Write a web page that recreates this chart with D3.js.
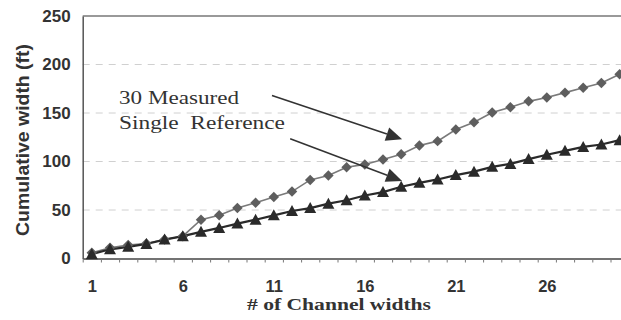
<!DOCTYPE html>
<html><head><meta charset="utf-8">
<script src="https://cdn.jsdelivr.net/npm/d3@7"></script>
<style>
html,body{margin:0;padding:0;background:#fff;}
svg{display:block;}
</style></head>
<body>
<svg id="c" width="621" height="320"></svg>
<script>
const channelWidths = d3.range(1, 31);
const measured30 = [6, 11, 14, 15.5, 19.5, 23, 40, 44.5, 52, 57.5, 63.5, 69, 81, 85.5, 94, 97, 102, 107.5, 116.5, 121, 133, 140.5, 150.5, 156, 162, 166, 171, 176, 181, 190];
const singleRef = [4.5, 9.5, 12, 15, 19.5, 23, 27.5, 31.5, 36, 40, 44.5, 49, 52, 56.5, 60, 65, 68.5, 74, 78, 81.5, 86, 89.5, 94.5, 97.5, 102.5, 107, 111, 115, 117.5, 122];
const yTicks = [0, 50, 100, 150, 200, 250];
const xLabelTicks = [1, 6, 11, 16, 21, 26];
const seriesNames = ["30 Measured", "Single  Reference"];

const svg = d3.select("#c");
const mLeft = 82.7, mTop = 16, mBottom = 258.5, step = 18.2;
const x = d3.scaleLinear().domain([0.5, 30.5]).range([mLeft, mLeft + 30 * step]);
const y = d3.scaleLinear().domain([0, 250]).range([mBottom, mTop]);
const mRight = 621;

// gridlines
svg.append("g").selectAll("line").data(yTicks.filter(v => v > 0 && v < 250)).join("line")
  .attr("x1", mLeft).attr("x2", mRight)
  .attr("y1", d => y(d)).attr("y2", d => y(d))
  .attr("stroke", "#d0d0d0").attr("stroke-width", 1).attr("stroke-dasharray", "7,6");

// top border
svg.append("line").attr("x1", mLeft).attr("x2", mRight).attr("y1", y(250)).attr("y2", y(250))
  .attr("stroke", "#777").attr("stroke-width", 1.5);

// x axis boundary ticks
const xb = svg.append("g").attr("transform", `translate(0,${mBottom})`)
  .call(d3.axisBottom(x).tickValues(d3.range(0.5, 31, 1)).tickFormat("").tickSize(4).tickSizeOuter(0));
xb.select(".domain").attr("stroke", "#444").attr("stroke-width", 1.5);
xb.selectAll(".tick line").attr("stroke", "#777");

// x labels
const xl = svg.append("g").attr("transform", `translate(0,${mBottom})`)
  .call(d3.axisBottom(x).tickValues(xLabelTicks).tickFormat(d3.format("d")).tickSize(0).tickPadding(22));
xl.select(".domain").remove();
xl.selectAll("text").attr("font-family", "Liberation Sans, Arial, sans-serif")
  .attr("font-weight", "bold").attr("font-size", 16.5).attr("fill", "#333");

// y axis
const ya = svg.append("g").attr("transform", `translate(${mLeft},0)`)
  .call(d3.axisLeft(y).tickValues(yTicks).tickSize(0).tickPadding(12));
ya.select(".domain").attr("stroke", "#555").attr("stroke-width", 1.5);
ya.selectAll("text").attr("font-family", "Liberation Sans, Arial, sans-serif")
  .attr("font-weight", "bold").attr("font-size", 17).attr("fill", "#333");

// axis titles
svg.append("text").attr("x", 339).attr("y", 310).attr("text-anchor", "middle")
  .attr("font-family", "Liberation Serif, Times New Roman, serif").attr("font-weight", "bold")
  .attr("font-size", 17).attr("fill", "#333")
  .attr("textLength", 184).attr("lengthAdjust", "spacingAndGlyphs")
  .text("# of Channel widths");
svg.append("text").attr("transform", "translate(29,140) rotate(-90)").attr("text-anchor", "middle")
  .attr("font-family", "Liberation Sans, Arial, sans-serif").attr("font-weight", "bold")
  .attr("font-size", 18).attr("fill", "#333")
  .attr("textLength", 192).attr("lengthAdjust", "spacingAndGlyphs")
  .text("Cumulative width (ft)");

// lines
const line = d3.line().x((d, i) => x(channelWidths[i])).y(d => y(d));
svg.append("path").datum(measured30).attr("d", line).attr("fill", "none")
  .attr("stroke", "#7a7a7a").attr("stroke-width", 1.6);
svg.append("path").datum(singleRef).attr("d", line).attr("fill", "none")
  .attr("stroke", "#2a2a2a").attr("stroke-width", 2.2);

// markers
svg.append("g").selectAll("path").data(measured30).join("path")
  .attr("transform", (d, i) => `translate(${x(channelWidths[i])},${y(d)})`)
  .attr("d", d3.symbol(d3.symbolDiamond2, 70)).attr("fill", "#5e5e5e");
svg.append("g").selectAll("path").data(singleRef).join("path")
  .attr("transform", (d, i) => `translate(${x(channelWidths[i])},${y(d)})`)
  .attr("d", "M0,-6 L6,5 L-6,5 Z").attr("fill", "#2a2a2a");

// annotations
const ann = svg.append("g").attr("font-family", "Liberation Serif, Times New Roman, serif")
  .attr("font-size", 19).attr("fill", "#333");
ann.append("text").attr("x", 119).attr("y", 104).attr("textLength", 120).attr("lengthAdjust", "spacingAndGlyphs").text(seriesNames[0]);
ann.append("text").attr("x", 119).attr("y", 129).attr("textLength", 166).attr("lengthAdjust", "spacingAndGlyphs").style("white-space", "pre").text(seriesNames[1]);

function arrow(x1, y1, x2, y2) {
  const ang = Math.atan2(y2 - y1, x2 - x1), L = 16, W = 7;
  const bx = x2 - L * Math.cos(ang), by = y2 - L * Math.sin(ang);
  svg.append("line").attr("x1", x1).attr("y1", y1).attr("x2", bx).attr("y2", by)
    .attr("stroke", "#333").attr("stroke-width", 1.6);
  const px = -Math.sin(ang) * W, py = Math.cos(ang) * W;
  svg.append("path").attr("d", `M${x2},${y2}L${bx + px},${by + py}L${bx - px},${by - py}Z`).attr("fill", "#333");
}
arrow(x(10.9), y(168), x(18.05), y(123));
arrow(x(11.9), y(123.5), x(18.05), y(80));
</script>
</body></html>
